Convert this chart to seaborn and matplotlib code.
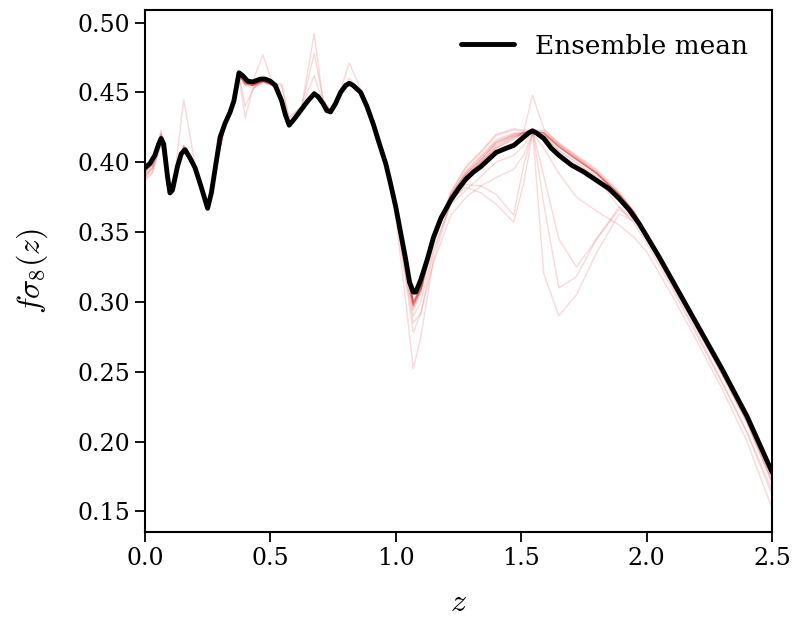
import numpy as np
import pandas as pd
import matplotlib
matplotlib.use("Agg")
import matplotlib.pyplot as plt
import seaborn as sns

sns.set_style("ticks")
plt.rcParams["font.family"] = ["DejaVu Serif"]
plt.rcParams["mathtext.fontset"] = "cm"
plt.rcParams["text.color"] = "black"
plt.rcParams["axes.labelcolor"] = "black"
plt.rcParams["xtick.color"] = "black"
plt.rcParams["ytick.color"] = "black"

# ensemble mean, read on a fine redshift grid
z_mean = [0.00, 0.02, 0.04, 0.055, 0.065, 0.075, 0.09, 0.10, 0.11, 0.13,
          0.145, 0.16, 0.18, 0.20, 0.225, 0.25, 0.265, 0.285, 0.30, 0.32,
          0.34, 0.355, 0.375, 0.39, 0.41, 0.43, 0.46, 0.48, 0.50, 0.52,
          0.545, 0.56, 0.575, 0.60, 0.625, 0.65, 0.675, 0.69, 0.71, 0.725,
          0.74, 0.76, 0.78, 0.80, 0.815, 0.83, 0.86, 0.885, 0.91, 0.935,
          0.96, 0.98, 1.00, 1.02, 1.04, 1.055, 1.07, 1.08, 1.10, 1.125,
          1.15, 1.18, 1.22, 1.25, 1.28, 1.31, 1.34, 1.37, 1.40, 1.44,
          1.47, 1.49, 1.51, 1.53, 1.545, 1.56, 1.59, 1.62, 1.65, 1.70,
          1.75, 1.80, 1.85, 1.89, 1.93, 1.97, 2.00, 2.05, 2.10, 2.20,
          2.30, 2.40, 2.50]
ens_mean = [0.396, 0.399, 0.405, 0.413, 0.417, 0.413, 0.390, 0.378, 0.380, 0.397,
            0.406, 0.409, 0.403, 0.396, 0.382, 0.367, 0.378, 0.401, 0.418, 0.428,
            0.436, 0.444, 0.464, 0.462, 0.458, 0.4575, 0.4595, 0.4595, 0.458, 0.455,
            0.444, 0.434, 0.4265, 0.432, 0.438, 0.444, 0.449, 0.447, 0.442, 0.437,
            0.436, 0.442, 0.450, 0.455, 0.4565, 0.455, 0.450, 0.440, 0.4275, 0.413,
            0.399, 0.384, 0.368, 0.349, 0.330, 0.314, 0.307, 0.307, 0.316, 0.330,
            0.346, 0.360, 0.373, 0.381, 0.388, 0.393, 0.397, 0.402, 0.407, 0.410,
            0.412, 0.415, 0.418, 0.421, 0.4225, 0.421, 0.417, 0.410, 0.405, 0.398,
            0.393, 0.387, 0.381, 0.374, 0.366, 0.356, 0.347, 0.332, 0.316, 0.284,
            0.252, 0.218, 0.178]

# individual ensemble members, on a coarser grid
z = [0.00, 0.03, 0.065, 0.10, 0.125, 0.155, 0.20, 0.25, 0.29, 0.32,
     0.35, 0.375, 0.40, 0.43, 0.47, 0.51, 0.545, 0.575, 0.625, 0.675,
     0.71, 0.74, 0.78, 0.815, 0.86, 0.91, 0.96, 1.00, 1.04, 1.07,
     1.10, 1.15, 1.22, 1.28, 1.34, 1.40, 1.47, 1.51, 1.545, 1.59,
     1.65, 1.72, 1.80, 1.89, 1.95, 2.00, 2.10, 2.20, 2.30, 2.40, 2.50]
members = [
    [0.394, 0.400, 0.423, 0.379, 0.394, 0.411, 0.397, 0.368, 0.404, 0.429, 0.442, 0.465, 0.458, 0.455, 0.458, 0.455, 0.443, 0.427, 0.439, 0.451, 0.443, 0.437, 0.450, 0.458, 0.451, 0.429, 0.400, 0.366, 0.325, 0.298, 0.310, 0.345, 0.376, 0.394, 0.405, 0.416, 0.421, 0.421, 0.4225, 0.422, 0.413, 0.404, 0.393, 0.377, 0.364, 0.349, 0.317, 0.285, 0.253, 0.219, 0.179],
    [0.392, 0.399, 0.421, 0.378, 0.393, 0.410, 0.396, 0.367, 0.403, 0.428, 0.441, 0.463, 0.456, 0.454, 0.457, 0.455, 0.444, 0.426, 0.438, 0.450, 0.442, 0.436, 0.449, 0.457, 0.450, 0.428, 0.399, 0.365, 0.322, 0.294, 0.306, 0.342, 0.378, 0.396, 0.407, 0.419, 0.423, 0.422, 0.422, 0.421, 0.411, 0.402, 0.392, 0.376, 0.363, 0.348, 0.316, 0.284, 0.251, 0.217, 0.176],
    [0.390, 0.396, 0.418, 0.380, 0.400, 0.445, 0.398, 0.368, 0.402, 0.427, 0.440, 0.461, 0.432, 0.452, 0.458, 0.455, 0.443, 0.427, 0.438, 0.449, 0.442, 0.436, 0.449, 0.456, 0.450, 0.428, 0.399, 0.366, 0.324, 0.297, 0.308, 0.344, 0.377, 0.393, 0.404, 0.415, 0.420, 0.421, 0.422, 0.421, 0.411, 0.402, 0.392, 0.377, 0.364, 0.348, 0.316, 0.284, 0.251, 0.217, 0.176],
    [0.395, 0.400, 0.419, 0.378, 0.394, 0.411, 0.396, 0.367, 0.403, 0.428, 0.441, 0.463, 0.455, 0.458, 0.477, 0.456, 0.444, 0.427, 0.440, 0.492, 0.444, 0.436, 0.450, 0.457, 0.450, 0.428, 0.399, 0.366, 0.326, 0.300, 0.311, 0.346, 0.377, 0.392, 0.402, 0.414, 0.419, 0.420, 0.422, 0.421, 0.412, 0.403, 0.392, 0.376, 0.363, 0.348, 0.316, 0.284, 0.252, 0.218, 0.177],
    [0.393, 0.398, 0.420, 0.379, 0.395, 0.412, 0.397, 0.368, 0.404, 0.429, 0.442, 0.464, 0.456, 0.455, 0.459, 0.456, 0.455, 0.431, 0.440, 0.478, 0.445, 0.437, 0.452, 0.471, 0.452, 0.429, 0.400, 0.366, 0.324, 0.296, 0.309, 0.345, 0.375, 0.391, 0.401, 0.412, 0.418, 0.420, 0.422, 0.421, 0.411, 0.402, 0.392, 0.377, 0.363, 0.348, 0.316, 0.284, 0.252, 0.218, 0.177],
    [0.391, 0.397, 0.416, 0.380, 0.394, 0.410, 0.397, 0.368, 0.402, 0.428, 0.441, 0.463, 0.457, 0.455, 0.458, 0.456, 0.444, 0.426, 0.438, 0.450, 0.442, 0.436, 0.449, 0.456, 0.450, 0.428, 0.398, 0.360, 0.300, 0.252, 0.275, 0.330, 0.372, 0.390, 0.400, 0.410, 0.417, 0.420, 0.422, 0.419, 0.409, 0.400, 0.390, 0.375, 0.362, 0.347, 0.315, 0.283, 0.250, 0.216, 0.174],
    [0.389, 0.395, 0.415, 0.379, 0.393, 0.408, 0.396, 0.367, 0.402, 0.428, 0.441, 0.462, 0.457, 0.455, 0.458, 0.456, 0.444, 0.427, 0.439, 0.451, 0.443, 0.436, 0.449, 0.456, 0.450, 0.428, 0.399, 0.367, 0.327, 0.300, 0.310, 0.345, 0.373, 0.382, 0.378, 0.370, 0.357, 0.385, 0.420, 0.420, 0.411, 0.402, 0.392, 0.377, 0.364, 0.348, 0.316, 0.284, 0.252, 0.218, 0.177],
    [0.397, 0.402, 0.418, 0.377, 0.392, 0.408, 0.395, 0.366, 0.402, 0.427, 0.440, 0.463, 0.458, 0.456, 0.459, 0.456, 0.443, 0.426, 0.437, 0.449, 0.442, 0.436, 0.448, 0.456, 0.450, 0.427, 0.398, 0.366, 0.326, 0.299, 0.309, 0.344, 0.372, 0.384, 0.383, 0.377, 0.362, 0.398, 0.421, 0.420, 0.411, 0.402, 0.392, 0.377, 0.364, 0.348, 0.316, 0.284, 0.252, 0.218, 0.177],
    [0.396, 0.401, 0.417, 0.378, 0.393, 0.409, 0.396, 0.367, 0.403, 0.428, 0.441, 0.464, 0.458, 0.456, 0.459, 0.456, 0.444, 0.427, 0.438, 0.450, 0.442, 0.436, 0.449, 0.456, 0.450, 0.428, 0.399, 0.367, 0.326, 0.300, 0.310, 0.345, 0.374, 0.389, 0.400, 0.411, 0.418, 0.421, 0.423, 0.320, 0.290, 0.305, 0.335, 0.363, 0.358, 0.346, 0.314, 0.281, 0.248, 0.213, 0.170],
    [0.393, 0.399, 0.419, 0.379, 0.394, 0.410, 0.397, 0.368, 0.403, 0.429, 0.442, 0.464, 0.457, 0.455, 0.458, 0.456, 0.444, 0.427, 0.439, 0.450, 0.443, 0.437, 0.450, 0.457, 0.451, 0.429, 0.400, 0.367, 0.325, 0.298, 0.309, 0.345, 0.376, 0.392, 0.403, 0.414, 0.420, 0.421, 0.423, 0.370, 0.310, 0.318, 0.345, 0.368, 0.360, 0.347, 0.315, 0.282, 0.249, 0.214, 0.172],
    [0.395, 0.400, 0.418, 0.378, 0.393, 0.409, 0.396, 0.367, 0.403, 0.428, 0.441, 0.463, 0.457, 0.455, 0.458, 0.456, 0.444, 0.427, 0.438, 0.450, 0.442, 0.436, 0.449, 0.456, 0.450, 0.428, 0.399, 0.367, 0.326, 0.299, 0.309, 0.345, 0.375, 0.391, 0.402, 0.413, 0.419, 0.421, 0.423, 0.390, 0.345, 0.325, 0.345, 0.366, 0.359, 0.346, 0.314, 0.281, 0.248, 0.214, 0.171],
    [0.394, 0.399, 0.418, 0.378, 0.393, 0.409, 0.396, 0.367, 0.403, 0.428, 0.441, 0.464, 0.457, 0.455, 0.458, 0.456, 0.444, 0.427, 0.438, 0.450, 0.442, 0.436, 0.449, 0.456, 0.450, 0.428, 0.399, 0.367, 0.326, 0.300, 0.310, 0.345, 0.375, 0.390, 0.400, 0.410, 0.416, 0.422, 0.448, 0.424, 0.413, 0.404, 0.394, 0.378, 0.364, 0.345, 0.312, 0.278, 0.243, 0.207, 0.165],
    [0.388, 0.393, 0.414, 0.380, 0.395, 0.410, 0.397, 0.368, 0.402, 0.427, 0.440, 0.462, 0.456, 0.455, 0.458, 0.456, 0.444, 0.427, 0.438, 0.449, 0.442, 0.436, 0.449, 0.456, 0.450, 0.428, 0.398, 0.364, 0.315, 0.278, 0.292, 0.335, 0.372, 0.388, 0.398, 0.408, 0.414, 0.419, 0.421, 0.410, 0.392, 0.375, 0.365, 0.355, 0.346, 0.336, 0.305, 0.272, 0.238, 0.200, 0.152],
    [0.390, 0.396, 0.416, 0.379, 0.394, 0.409, 0.397, 0.368, 0.403, 0.428, 0.441, 0.463, 0.457, 0.455, 0.458, 0.456, 0.444, 0.427, 0.438, 0.450, 0.442, 0.436, 0.449, 0.456, 0.450, 0.428, 0.398, 0.364, 0.318, 0.285, 0.292, 0.328, 0.362, 0.375, 0.383, 0.389, 0.395, 0.405, 0.421, 0.419, 0.408, 0.399, 0.389, 0.368, 0.356, 0.342, 0.310, 0.276, 0.242, 0.206, 0.162],
    [0.387, 0.392, 0.413, 0.380, 0.395, 0.410, 0.397, 0.368, 0.402, 0.428, 0.441, 0.463, 0.455, 0.453, 0.457, 0.455, 0.443, 0.426, 0.438, 0.450, 0.442, 0.436, 0.449, 0.456, 0.450, 0.428, 0.399, 0.366, 0.324, 0.297, 0.308, 0.344, 0.379, 0.397, 0.408, 0.420, 0.424, 0.423, 0.423, 0.423, 0.414, 0.405, 0.395, 0.379, 0.365, 0.349, 0.317, 0.285, 0.253, 0.219, 0.180],
    [0.396, 0.401, 0.420, 0.377, 0.392, 0.412, 0.395, 0.366, 0.404, 0.429, 0.442, 0.463, 0.440, 0.452, 0.462, 0.457, 0.456, 0.432, 0.440, 0.462, 0.443, 0.437, 0.450, 0.460, 0.451, 0.428, 0.399, 0.365, 0.320, 0.290, 0.300, 0.338, 0.370, 0.380, 0.390, 0.400, 0.405, 0.412, 0.422, 0.421, 0.412, 0.403, 0.393, 0.377, 0.364, 0.348, 0.316, 0.284, 0.252, 0.218, 0.177],
]

df = pd.DataFrame({
    "z": np.tile(z, len(members)),
    "fs8": np.concatenate(members),
    "member": np.repeat(np.arange(len(members)), len(z)),
})

fig, ax = plt.subplots(figsize=(7.96, 6.24), dpi=100)
fig.subplots_adjust(left=0.182, right=0.970, top=0.984, bottom=0.147)

sns.lineplot(data=df, x="z", y="fs8", units="member", estimator=None,
             color="#d62728", alpha=0.17, lw=1.0, ax=ax, legend=False)
sns.lineplot(x=z_mean, y=ens_mean, color="black", lw=3.5, ax=ax, label="Ensemble mean")

ax.set_xlim(0, 2.5)
ax.set_xticks([0.0, 0.5, 1.0, 1.5, 2.0, 2.5])
ax.set_yticks([0.15, 0.20, 0.25, 0.30, 0.35, 0.40, 0.45, 0.50])
ax.yaxis.set_major_formatter(matplotlib.ticker.FormatStrFormatter("%.2f"))
ax.xaxis.set_major_formatter(matplotlib.ticker.FormatStrFormatter("%.1f"))
ax.tick_params(labelsize=17, length=7, width=1.3, direction="out")
for s in ax.spines.values():
    s.set_linewidth(1.5)
    s.set_color("black")
ax.set_xlabel(r"$z$", fontsize=23, labelpad=12)
ax.set_ylabel(r"$f\sigma_8(z)$", fontsize=23, labelpad=20)
ax.legend(loc="upper right", frameon=False, fontsize=19)

fig.savefig("out.png", dpi=100)
